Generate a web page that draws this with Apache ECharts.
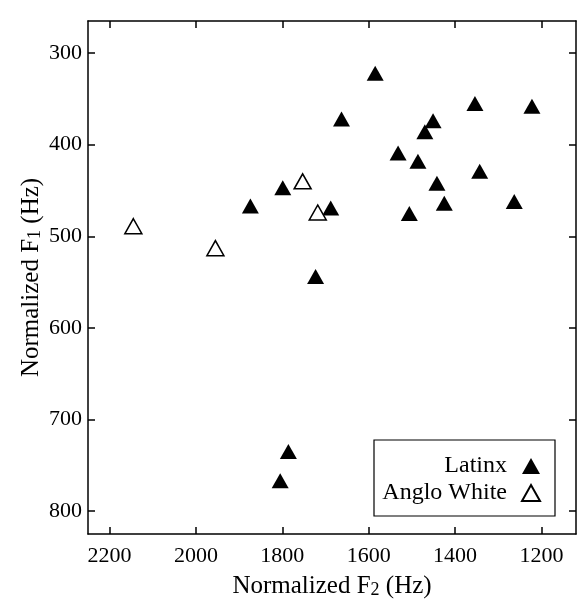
<!DOCTYPE html>
<html>
<head>
<meta charset="utf-8">
<script src="https://cdn.jsdelivr.net/npm/echarts@6/dist/echarts.min.js"></script>
<style>
  html, body { margin: 0; padding: 0; background: #fff; }
  #chart { width: 577px; height: 601px; }
</style>
</head>
<body>
<div id="chart"></div>
<script>
// normalized formant values (Hz)
const latinxF2 = [1585, 1663, 1354, 1222, 1451, 1470, 1532, 1486, 1343, 1442, 1799, 1425, 1688, 1506, 1263, 1723, 1874, 1786, 1805];
const latinxF1 = [322, 372, 355, 358, 374, 386, 409, 418, 429, 442, 447, 464, 469, 475, 462, 544, 467, 735, 767];
const angloF2 = [2145, 1955, 1753, 1718];
const angloF1 = [489, 513, 440, 474];

const f2Ticks = [1200, 1400, 1600, 1800, 2000, 2200];
const f1Ticks = [300, 400, 500, 600, 700, 800];

const serif = '"Liberation Serif", "DejaVu Serif", serif';

function pairs (xs, ys) {
  return xs.map(function (x, i) { return [x, ys[i]]; });
}

let myChart = echarts.init(document.getElementById('chart'));

const xBase = {
  type: 'value',
  min: 1120,
  max: 2250,
  inverse: true,
  axisLine: { lineStyle: { color: '#000', width: 1.5 } },
  axisTick: { inside: true, length: 7, lineStyle: { color: '#000', width: 1.5 }, customValues: f2Ticks },
  splitLine: { show: false }
};
const yBase = {
  type: 'value',
  min: 265,
  max: 825,
  inverse: true,
  axisLine: { lineStyle: { color: '#000', width: 1.5 } },
  axisTick: { inside: true, length: 7, lineStyle: { color: '#000', width: 1.5 }, customValues: f1Ticks },
  splitLine: { show: false }
};

const nameStyle = {
  fontFamily: serif, fontSize: 25, color: '#000',
  rich: { s: { fontFamily: serif, fontSize: 18, color: '#000', verticalAlign: 'bottom' } }
};

let option = {
  backgroundColor: '#fff',
  animation: false,
  textStyle: { fontFamily: serif },
  grid: { left: 88, right: 1, top: 21, bottom: 67, outerBoundsMode: 'none' },
  legend: {
    orient: 'vertical',
    left: 374,
    top: 440,
    align: 'right',
    padding: [14, 14, 11, 5],
    itemGap: 3,
    itemWidth: 18,
    itemHeight: 16,
    borderColor: '#000',
    borderWidth: 1.2,
    backgroundColor: '#fff',
    textStyle: {
      fontFamily: serif, fontSize: 24, lineHeight: 24, color: '#000',
      width: 128, align: 'right', padding: [0, 10, 0, 0]
    },
    data: ['Latinx', 'Anglo White']
  },
  xAxis: [
    Object.assign({}, xBase, {
      position: 'bottom',
      name: 'Normalized F{s|2} (Hz)',
      nameLocation: 'middle',
      nameGap: 40,
      nameMoveOverlap: false,
      nameTextStyle: nameStyle,
      axisLabel: {
        fontFamily: serif, fontSize: 22, color: '#000', margin: 11,
        customValues: f2Ticks, formatter: function (v) { return String(v); }
      }
    }),
    Object.assign({}, xBase, {
      position: 'top',
      axisLabel: { show: false }
    })
  ],
  yAxis: [
    Object.assign({}, yBase, {
      position: 'left',
      name: 'Normalized F{s|1} (Hz)',
      nameLocation: 'middle',
      nameGap: 44,
      nameMoveOverlap: false,
      nameTextStyle: nameStyle,
      axisLabel: {
        fontFamily: serif, fontSize: 22, color: '#000', margin: 6,
        customValues: f1Ticks, formatter: function (v) { return String(v); }
      }
    }),
    Object.assign({}, yBase, {
      position: 'right',
      axisLabel: { show: false }
    })
  ],
  series: [
    {
      name: 'Latinx',
      type: 'scatter',
      symbol: 'triangle',
      symbolSize: [17, 15],
      itemStyle: { color: '#000', opacity: 1 },
      data: pairs(latinxF2, latinxF1)
    },
    {
      name: 'Anglo White',
      type: 'scatter',
      symbol: 'triangle',
      symbolSize: [17, 15],
      itemStyle: { color: '#fff', borderColor: '#000', borderWidth: 1.5, opacity: 1 },
      data: pairs(angloF2, angloF1)
    }
  ]
};
myChart.setOption(option);
window.addEventListener('resize', function () { myChart.resize() })
</script>
</body>
</html>
